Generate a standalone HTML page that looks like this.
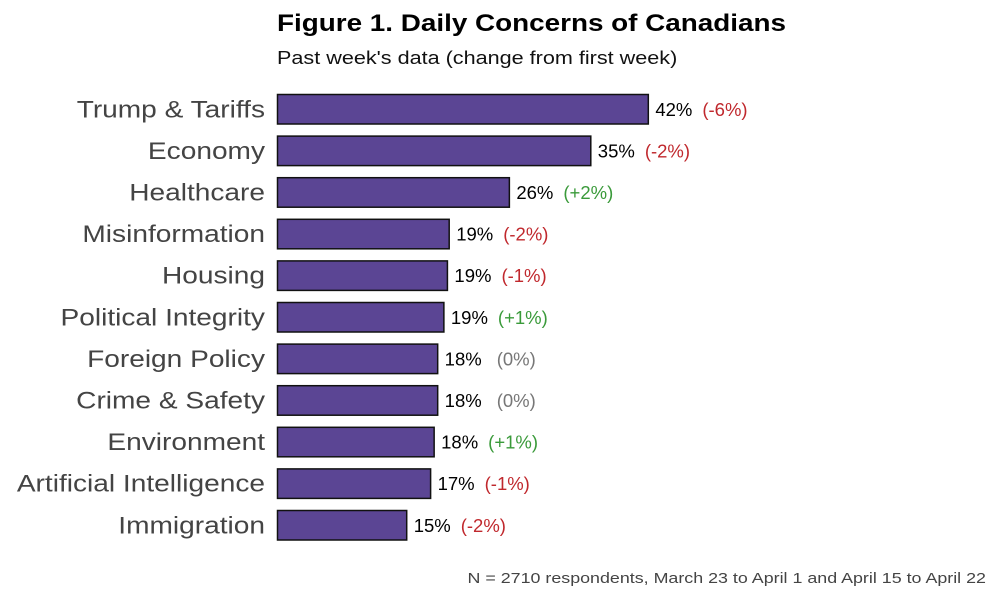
<!DOCTYPE html>
<html><head><meta charset="utf-8"><style>
body{margin:0;background:#fff;}
svg{display:block;font-family:"Liberation Sans",sans-serif;}
</style></head><body>
<svg id="chart" width="1000" height="600">
<text class="st" data-k="1.16" x="277" y="31" font-size="24" font-weight="bold" fill="#000">Figure 1. Daily Concerns of Canadians</text>
<text class="st" data-k="1.2" x="277" y="64" font-size="18" fill="#111">Past week's data (change from first week)</text>
<text id="foot" x="986" y="583" font-size="15" fill="#444" text-anchor="end">N = 2710 respondents, March 23 to April 1 and April 15 to April 22</text>
<g id="bars"></g>
</svg>
<script>
const categories = ["Trump & Tariffs","Economy","Healthcare","Misinformation","Housing","Political Integrity","Foreign Policy","Crime & Safety","Environment","Artificial Intelligence","Immigration"];
const values = [41.9,35.4,26.2,19.4,19.2,18.8,18.1,18.1,17.7,17.3,14.6];
const changes = [-6,-2,2,-2,-1,1,0,0,1,-1,-2];

const x0 = 277.5, scale = 8.85, top0 = 94.5, step = 41.6, bh = 29.5;
const xs = v => x0 + v*scale;
const ys = i => top0 + i*step;
const NS = "http://www.w3.org/2000/svg";
const g = document.getElementById('bars');
function stretch(e,k){const w=e.getComputedTextLength();e.setAttribute('textLength',w*k);e.setAttribute('lengthAdjust','spacingAndGlyphs');return w*k;}
document.querySelectorAll('.st').forEach(e=>stretch(e,parseFloat(e.getAttribute('data-k'))));
stretch(document.getElementById('foot'),1.19);
function mk(tag, attrs){const e=document.createElementNS(NS,tag);for(const k in attrs)e.setAttribute(k,attrs[k]);g.appendChild(e);return e;}
categories.forEach((c,i)=>{
  const y = ys(i), cy = y + bh/2;
  const lab = mk('text',{x:265,y:cy+8,'font-size':24,fill:'#444','text-anchor':'end'});
  lab.textContent = c;
  
  
  stretch(lab,1.17);
  const r = mk('rect',{x:x0,y:y,width:xs(values[i])-x0,height:bh,fill:'#5b4594',stroke:'#111','stroke-width':1.5});
  
  
  const vx = xs(values[i]) + 7;
  const vt = mk('text',{x:vx,y:cy+6.5,'font-size':18.5,fill:'#000'});
  vt.textContent = Math.round(values[i]) + '%';
  
  
  const w = vt.getComputedTextLength();
  const ch = changes[i];
  const col = ch>0?'#3a9a3a':(ch<0?'#c0282d':'#777');
  const ct = mk('text',{x:vx+w+(ch===0?15:10),y:cy+6.5,'font-size':18.5,fill:col});
  ct.textContent = '(' + (ch>0?'+':'') + ch + '%)';
  
  
});
</script>
</body></html>
